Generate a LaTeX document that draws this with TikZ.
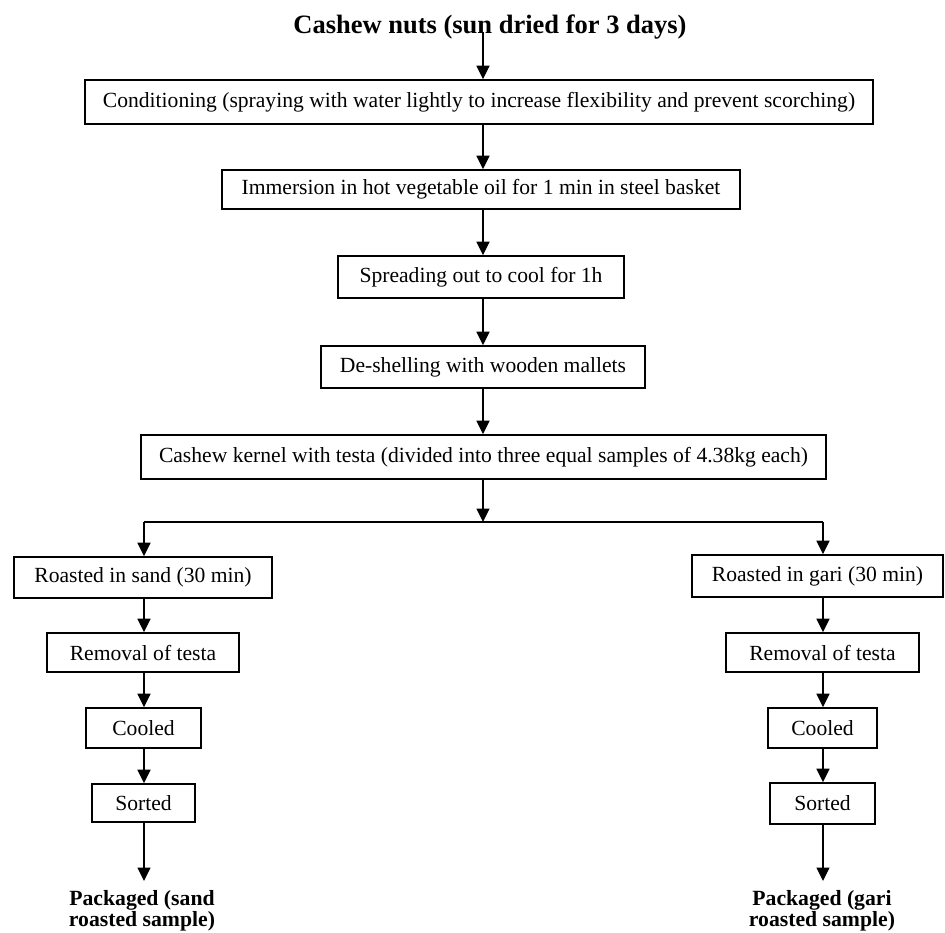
\documentclass[tikz,border=0pt]{standalone}
\usepackage{fontspec}
\setmainfont{Liberation Serif}
\usetikzlibrary{arrows.meta}
\begin{document}
\begin{tikzpicture}[x=1pt,y=-1pt,
  box/.style={draw, line width=1.6pt, inner sep=0pt, font=\fontsize{21.6}{24}\selectfont},
  arr/.style={line width=1.3pt, -{Triangle[length=13.5pt,width=13pt]}},
  ln/.style={line width=1.3pt},
  pkg/.style={font=\fontsize{21.7}{21.5}\selectfont\bfseries, align=center, inner sep=0pt, anchor=north}]
\useasboundingbox (0,0) rectangle (945,933);
\coordinate (ax) at (483,0);
\node[font=\fontsize{26.5}{30}\selectfont\bfseries, inner sep=0pt] (title) at (490,27) {Cashew nuts (sun dried for 3 days)};
\node[box, minimum width=788pt, minimum height=44pt] (b1) at (479,102) {Conditioning (spraying with water lightly to increase flexibility and prevent scorching)};
\node[box, minimum width=518pt, minimum height=39pt] (b2) at (481,189.5) {Immersion in hot vegetable oil for 1 min in steel basket};
\node[box, minimum width=286pt, minimum height=42pt] (b3) at (481,277) {Spreading out to cool for 1h};
\node[box, minimum width=324pt, minimum height=42pt] (b4) at (483,367) {De-shelling with wooden mallets};
\node[box, minimum width=685pt, minimum height=44pt] (b5) at (483.5,457) {Cashew kernel with testa (divided into three equal samples of 4.38kg each)};
\coordinate (sp) at (483,522);
\coordinate (spL) at (144,522);
\coordinate (spR) at (823,522);
% left column
\node[box, minimum width=258pt, minimum height=41pt] (b6L) at (143,577.5) {Roasted in sand (30 min)};
\node[box, minimum width=192pt, minimum height=39pt] (b7L) at (143,652.5) {Removal of testa};
\node[box, minimum width=115pt, minimum height=40pt] (b8L) at (143.5,728) {Cooled};
\node[box, minimum width=103pt, minimum height=38pt] (b9L) at (143.5,803) {Sorted};
\node[pkg] (pL) at (142,890) {Packaged (sand\\roasted sample)};
% right column
\node[box, minimum width=251pt, minimum height=42pt] (b6R) at (817.5,576) {Roasted in gari (30 min)};
\node[box, minimum width=193pt, minimum height=39pt] (b7R) at (822.5,652.5) {Removal of testa};
\node[box, minimum width=109pt, minimum height=40pt] (b8R) at (822.5,728) {Cooled};
\node[box, minimum width=105pt, minimum height=41pt] (b9R) at (822.5,803.5) {Sorted};
\node[pkg] (pR) at (822,890) {Packaged (gari\\roasted sample)};
% arrows main
\draw[arr] (title.base -| ax) -- (b1.north -| ax);
\draw[arr] (b1.south -| ax) -- (b2.north -| ax);
\draw[arr] (b2.south -| ax) -- (b3.north -| ax);
\draw[arr] (b3.south -| ax) -- (b4.north -| ax);
\draw[arr] (b4.south -| ax) -- (b5.north -| ax);
\draw[arr] (b5.south -| ax) -- (sp);
\draw[ln] (spL) -- (spR);
\draw[arr] (spL) -- (b6L.north -| spL);
\draw[arr] (spR) -- (b6R.north -| spR);
\draw[arr] (b6L.south -| spL) -- (b7L.north -| spL);
\draw[arr] (b7L.south -| spL) -- (b8L.north -| spL);
\draw[arr] (b8L.south -| spL) -- (b9L.north -| spL);
\draw[arr, shorten >=9pt] (b9L.south -| spL) -- (pL.north -| spL);
\draw[arr] (b6R.south -| spR) -- (b7R.north -| spR);
\draw[arr] (b7R.south -| spR) -- (b8R.north -| spR);
\draw[arr] (b8R.south -| spR) -- (b9R.north -| spR);
\draw[arr, shorten >=9pt] (b9R.south -| spR) -- (pR.north -| spR);
\end{tikzpicture}
\end{document}
